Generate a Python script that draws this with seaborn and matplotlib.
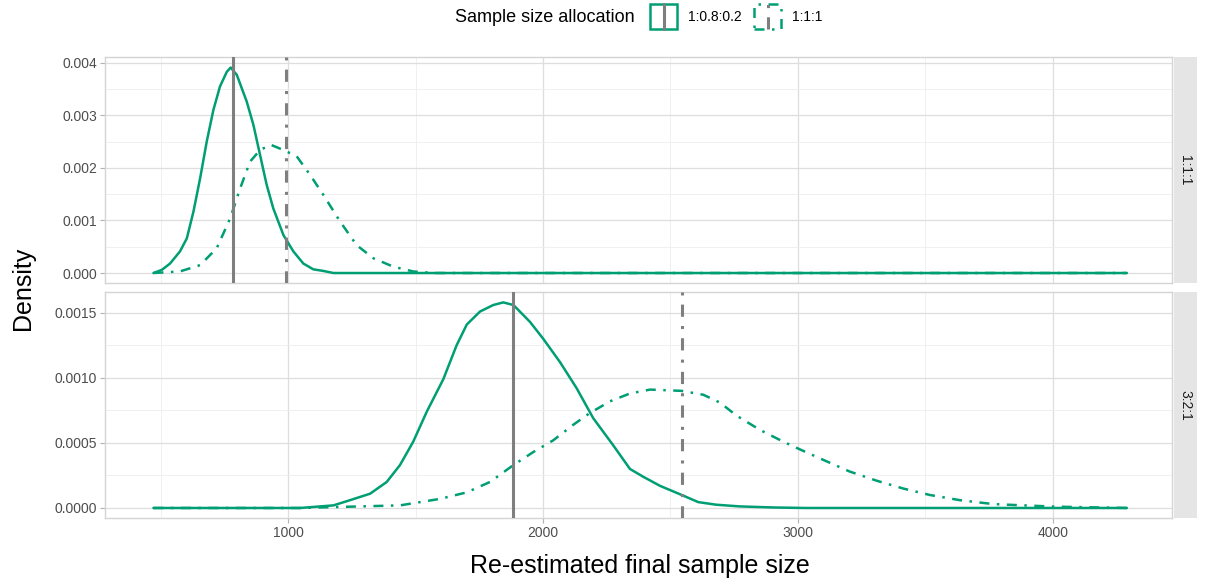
import numpy as np
import pandas as pd
import matplotlib.pyplot as plt
from matplotlib.patches import Rectangle
from matplotlib.lines import Line2D
from matplotlib.ticker import FormatStrFormatter, MultipleLocator
import seaborn as sns

sns.set_theme(style="white")
plt.rcParams['font.family'] = ['Liberation Sans', 'DejaVu Sans']

# density curves, facet 1:1:1
top_solid_x = [472, 505, 537, 576, 603, 629, 655, 681, 707, 733, 760, 775, 799, 838, 864, 890, 916, 942, 982,
               1021, 1060, 1099, 1138, 1178, 4290]
top_solid_y = [0, 0.00006, 0.00018, 0.00041, 0.00066, 0.00117, 0.0018, 0.0025, 0.0031, 0.00355, 0.00383, 0.00391,
               0.00377, 0.00326, 0.00282, 0.00225, 0.00168, 0.00123, 0.00072, 0.00041, 0.00018, 0.00007, 0.00004,
               0, 0]
top_dash_x = [472, 576, 655, 720, 773, 812, 851, 890, 932, 982, 1034, 1086, 1138, 1204, 1269, 1335, 1413, 1491,
              1570, 4290]
top_dash_y = [0, 0.00003, 0.00015, 0.00047, 0.00104, 0.00161, 0.00212, 0.00234, 0.00244, 0.00234, 0.00222,
              0.00187, 0.00149, 0.00098, 0.00053, 0.00028, 0.00012, 0.00003, 0, 0]

# facet 3:2:1
bot_solid_x = [472, 1047, 1178, 1243, 1322, 1387, 1439, 1491, 1544, 1609, 1661, 1701, 1753, 1805, 1844, 1884,
               1949, 2001, 2067, 2132, 2197, 2276, 2341, 2393, 2459, 2544, 2609, 2680, 2772, 2902, 3030, 4290]
bot_solid_y = [0, 0, 0.00002, 0.00006, 0.00011, 0.0002, 0.00033, 0.00051, 0.00074, 0.00099, 0.00125, 0.00141,
               0.00151, 0.00156, 0.00158, 0.00156, 0.00143, 0.0013, 0.00112, 0.00092, 0.00069, 0.00048, 0.0003,
               0.00024, 0.00017, 0.0001, 0.000045, 0.000025, 0.000012, 0.000004, 0, 0]
bot_dash_x = [472, 1047, 1439, 1596, 1701, 1792, 1884, 1962, 2040, 2119, 2184, 2263, 2341, 2420, 2544, 2629,
              2694, 2759, 2851, 2942, 3008, 3099, 3203, 3308, 3412, 3517, 3635, 3766, 3884, 4014, 4290]
bot_dash_y = [0, 0, 0.00002, 0.00007, 0.00012, 0.0002, 0.00033, 0.00043, 0.00052, 0.00064, 0.00073, 0.00082,
              0.00088, 0.00091, 0.0009, 0.00087, 0.00081, 0.00071, 0.0006, 0.00051, 0.00045, 0.00037, 0.00028,
              0.00021, 0.00015, 0.0001, 0.00006, 0.00003, 0.00002, 0.00001, 0]

# mean re-estimated sample size per facet / allocation
vline_top = {'1:0.8:0.2': 784, '1:1:1': 993}
vline_bot = {'1:0.8:0.2': 1882, '1:1:1': 2545}

allocations = ['1:0.8:0.2', '1:1:1']
facets = ['1:1:1', '3:2:1']

green = '#009E73'
grey = '#7F7F7F'
dotdash = (4, 3, 1, 3)


def make_df(sx, sy, dx, dy):
    d1 = pd.DataFrame({'size': sx, 'density': sy, 'allocation': allocations[0]})
    d2 = pd.DataFrame({'size': dx, 'density': dy, 'allocation': allocations[1]})
    return pd.concat([d1, d2], ignore_index=True)


top_df = make_df(top_solid_x, top_solid_y, top_dash_x, top_dash_y)
bot_df = make_df(bot_solid_x, bot_solid_y, bot_dash_x, bot_dash_y)

W, H = 1208, 583
fig = plt.figure(figsize=(W / 100, H / 100), dpi=100)
fig.patch.set_facecolor('white')

ax_top = fig.add_axes([105 / W, 1 - 283 / H, 1067 / W, 226 / H])
ax_bot = fig.add_axes([105 / W, 1 - 518 / H, 1067 / W, 226 / H])

panels = [(ax_top, top_df, vline_top, (-0.00019, 0.00411), 0.001, '%.3f'),
          (ax_bot, bot_df, vline_bot, (-0.000077, 0.00166), 0.0005, '%.4f')]

for ax, df, vl, ylim, step, fmt in panels:
    sns.lineplot(data=df, x='size', y='density', style='allocation',
                 dashes={'1:0.8:0.2': '', '1:1:1': dotdash},
                 color=green, linewidth=1.8, sort=False, estimator=None,
                 legend=False, ax=ax, zorder=3)
    for alloc, xv in vl.items():
        ax.axvline(xv, color=grey, lw=2.2, zorder=4,
                   linestyle='-' if alloc == allocations[0] else (0, dotdash))
    ax.set_xlim(282, 4467)
    ax.set_ylim(*ylim)
    ax.xaxis.set_major_locator(MultipleLocator(1000))
    ax.xaxis.set_minor_locator(MultipleLocator(500))
    ax.yaxis.set_major_locator(MultipleLocator(step))
    ax.yaxis.set_minor_locator(MultipleLocator(step / 2))
    ax.yaxis.set_major_formatter(FormatStrFormatter(fmt))
    ax.grid(which='major', color='#DEDEDE', lw=0.9)
    ax.grid(which='minor', color='#EEEEEE', lw=0.6)
    ax.set_axisbelow(True)
    for sp in ax.spines.values():
        sp.set_color('#D4D4D4')
        sp.set_linewidth(1.0)
    ax.tick_params(axis='both', which='major', labelsize=10, labelcolor='#4D4D4D',
                   color='#B3B3B3', length=3.5, width=0.8, left=True, bottom=True, pad=2)
    ax.tick_params(axis='both', which='minor', length=0)
    ax.set_xlabel('')
    ax.set_ylabel('')

ax_top.tick_params(axis='x', which='both', bottom=False, labelbottom=False)

# facet strips on the right
for top_px, label in [(57, facets[0]), (292, facets[1])]:
    sax = fig.add_axes([1174 / W, 1 - (top_px + 226) / H, 23 / W, 226 / H])
    sax.set_facecolor('#E5E5E5')
    sax.set_xticks([])
    sax.set_yticks([])
    for sp in sax.spines.values():
        sp.set_visible(False)
    sax.text(0.5, 0.5, label, rotation=270, ha='center', va='center',
             fontsize=10, color='#1A1A1A', transform=sax.transAxes)

fig.text(23 / W, 1 - 288 / H, 'Density', rotation=90, ha='center', va='center', fontsize=18, color='black')
fig.text(640 / W, 1 - 566 / H, 'Re-estimated final sample size', ha='center', va='center', fontsize=18, color='black')

# legend drawn at the top
fig.text(455 / W, 1 - 17 / H, 'Sample size allocation', ha='left', va='center', fontsize=13, color='black')
keys = [(650, allocations[0], '-'), (754, allocations[1], (0, dotdash))]
for kx, lab, ls in keys:
    fig.patches.append(Rectangle((kx / W, 1 - 29 / H), 27 / W, 25 / H, transform=fig.transFigure,
                                 facecolor='white', edgecolor=green, lw=1.8, linestyle=ls))
    fig.lines.append(Line2D([(kx + 13.5) / W] * 2, [1 - 29 / H, 1 - 4 / H], transform=fig.transFigure,
                            color=grey, lw=2.2, linestyle=ls))
    fig.text((kx + 38) / W, 1 - 17 / H, lab, ha='left', va='center', fontsize=10, color='black')

fig.savefig('out.png', dpi=100, facecolor='white')
